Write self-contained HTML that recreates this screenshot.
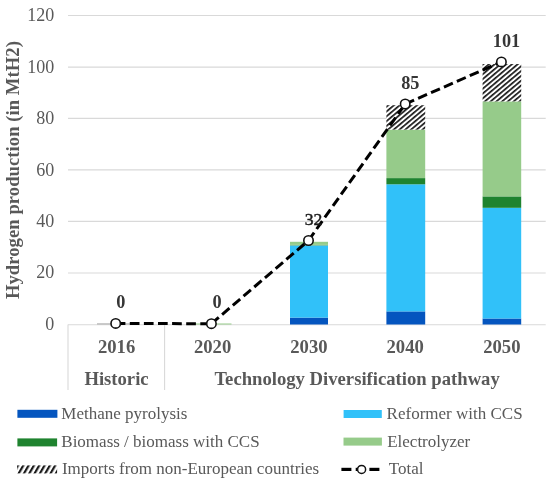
<!DOCTYPE html>
<html>
<head>
<meta charset="utf-8">
<style>
html,body{margin:0;padding:0;background:#fff;}
body{width:550px;height:485px;overflow:hidden;}
svg{display:block;filter:blur(0.35px);}
text{font-family:"Liberation Serif",serif;}
</style>
</head>
<body>
<svg width="550" height="485" viewBox="0 0 550 485">
<defs>
<pattern id="hatch" patternUnits="userSpaceOnUse" width="3.7" height="3.7" patternTransform="rotate(50)">
<rect x="0" y="0" width="3.7" height="3.7" fill="#fff"/>
<rect x="0" y="0" width="1.7" height="3.7" fill="#1a1a1a"/>
</pattern>
<pattern id="hatch2" patternUnits="userSpaceOnUse" width="4.6" height="4.6" patternTransform="translate(17,465) rotate(30)">
<rect x="0" y="0" width="4.6" height="4.6" fill="#fff"/>
<rect x="0" y="0" width="2.2" height="4.6" fill="#1a1a1a"/>
</pattern>
</defs>
<rect x="0" y="0" width="550" height="485" fill="#fff"/>

<!-- gridlines -->
<g stroke="#d9d9d9" stroke-width="1.1">
<line x1="68" y1="15.45" x2="545.7" y2="15.45"/>
<line x1="68" y1="67.1" x2="545.7" y2="67.1"/>
<line x1="68" y1="118.4" x2="545.7" y2="118.4"/>
<line x1="68" y1="169.9" x2="545.7" y2="169.9"/>
<line x1="68" y1="221.4" x2="545.7" y2="221.4"/>
<line x1="68" y1="272.95" x2="545.7" y2="272.95"/>
<line x1="68" y1="324.7" x2="545.7" y2="324.7"/>
<line x1="68" y1="324.5" x2="68" y2="390"/>
<line x1="164.6" y1="324.5" x2="164.6" y2="390"/>
</g>

<!-- y tick labels -->
<g font-size="18" fill="#595959" text-anchor="end">
<text x="54.2" y="21.2">120</text>
<text x="54.2" y="72.75">100</text>
<text x="54.2" y="124.3">80</text>
<text x="54.2" y="175.85">60</text>
<text x="54.2" y="227.4">40</text>
<text x="54.2" y="278.1">20</text>
<text x="54.2" y="329.6">0</text>
</g>

<!-- y axis title -->
<text transform="translate(18.6,170.1) rotate(-90)" text-anchor="middle" font-size="18.67" font-weight="bold" fill="#595959" textLength="258" lengthAdjust="spacing">Hydrogen production (in MtH2)</text>

<!-- bars -->
<rect x="97" y="323.4" width="38" height="1" fill="#8a8a8a" opacity="0.75"/>
<rect x="193.5" y="323.5" width="38" height="1" fill="#96cb8a"/>

<rect x="290" y="317.6" width="38" height="6.9" fill="#0455bf"/>
<rect x="290" y="245.6" width="38" height="72" fill="#31c1f9"/>
<rect x="290" y="244.9" width="38" height="0.7" fill="#1f832f" opacity="0.6"/>
<rect x="290" y="241.8" width="38" height="3.1" fill="#96cb8a"/>

<rect x="386.4" y="311.4" width="38.8" height="13.1" fill="#0455bf"/>
<rect x="386.4" y="184.3" width="38.8" height="127.1" fill="#31c1f9"/>
<rect x="386.4" y="178.1" width="38.8" height="6.2" fill="#1f832f"/>
<rect x="386.4" y="129.6" width="38.8" height="48.5" fill="#96cb8a"/>
<rect x="386.4" y="105.2" width="38.8" height="24.4" fill="url(#hatch)"/>

<rect x="482.6" y="318.5" width="38.6" height="6" fill="#0455bf"/>
<rect x="482.6" y="207.8" width="38.6" height="110.7" fill="#31c1f9"/>
<rect x="482.6" y="196.4" width="38.6" height="11.4" fill="#1f832f"/>
<rect x="482.6" y="101.4" width="38.6" height="95" fill="#96cb8a"/>
<rect x="482.6" y="64" width="38.6" height="37.4" fill="url(#hatch)"/>

<!-- total line -->
<g fill="none" stroke="#000" stroke-width="3" stroke-dasharray="9.7 4.4">
<line x1="115.7" y1="323.5" x2="211.4" y2="323.7"/>
<line x1="211.4" y1="323.7" x2="308.5" y2="240.5"/>
<line x1="308.5" y1="240.5" x2="405.2" y2="104"/>
<line x1="405.2" y1="104" x2="501.4" y2="61.9"/>
</g>
<g fill="#fff" stroke="#111" stroke-width="1.6">
<circle cx="115.7" cy="323.4" r="4.7"/>
<circle cx="211.4" cy="323.7" r="4.7"/>
<circle cx="308.5" cy="240.5" r="4.7"/>
<circle cx="405.2" cy="104" r="4.7"/>
<circle cx="501.4" cy="61.9" r="4.7"/>
</g>

<!-- data labels -->
<g font-size="18.3" font-weight="bold" fill="#363636" text-anchor="middle">
<text x="120.7" y="307.6">0</text>
<text x="217.1" y="307.5">0</text>
<text x="313.5" y="225" font-weight="normal" font-size="17.6" fill="#1a1a1a" stroke="#1a1a1a" stroke-width="0.45">32</text>
<text x="410.3" y="89.3">85</text>
<text x="506.5" y="47.1">101</text>
</g>

<!-- category labels -->
<g font-size="18.67" font-weight="bold" fill="#595959" text-anchor="middle">
<text x="116.6" y="352.5">2016</text>
<text x="212.6" y="352.5">2020</text>
<text x="308.9" y="352.5">2030</text>
<text x="405.2" y="352.5">2040</text>
<text x="501.8" y="352.5">2050</text>
<text x="116.5" y="384.9">Historic</text>
<text x="357.1" y="384.9">Technology Diversification pathway</text>
</g>

<!-- legend -->
<rect x="17.4" y="409.8" width="40" height="8" fill="#0455bf"/>
<rect x="343.6" y="410" width="38.2" height="8" fill="#31c1f9"/>
<rect x="17.4" y="438.4" width="39.7" height="8" fill="#1f832f"/>
<rect x="343.5" y="437.6" width="38.4" height="8" fill="#96cb8a"/>
<rect x="17.1" y="465.4" width="40" height="8" fill="url(#hatch2)"/>
<g stroke="#000" stroke-width="3.2">
<line x1="341.4" y1="469.4" x2="351.4" y2="469.4"/>
<line x1="355.7" y1="469.4" x2="358" y2="469.4"/>
<line x1="369.4" y1="469.4" x2="379.4" y2="469.4"/>
</g>
<circle cx="361.6" cy="469.4" r="4" fill="#fff" stroke="#111" stroke-width="1.5"/>

<g font-size="17" fill="#595959">
<text x="61.3" y="418.8">Methane pyrolysis</text>
<text x="386.6" y="418.8">Reformer with CCS</text>
<text x="61.3" y="447.3">Biomass / biomass with CCS</text>
<text x="387.2" y="447.3">Electrolyzer</text>
<text x="61.9" y="474.3">Imports from non-European countries</text>
<text x="388.8" y="474.3">Total</text>
</g>
</svg>
</body>
</html>
